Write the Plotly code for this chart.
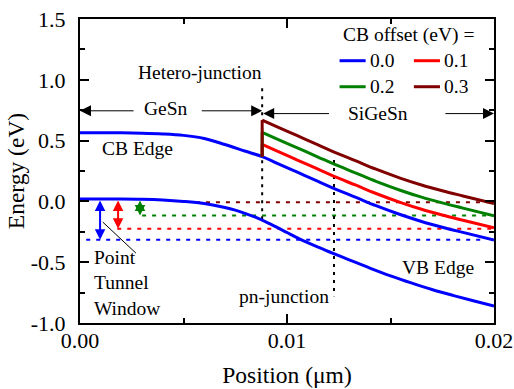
import plotly.graph_objects as go

# ---- band-edge data -------------------------------------------------------
# Conduction band in the GeSn region (position in um, energy in eV)
x_gesn = [0.0, 0.001, 0.002, 0.003, 0.004, 0.005, 0.006, 0.007, 0.008, 0.0088]
cb_gesn = [0.565, 0.565, 0.564, 0.561, 0.555, 0.543, 0.518, 0.468, 0.412, 0.368]

# Conduction band in the SiGeSn region for each CB offset
x_sigesn = [0.0088, 0.0095, 0.0105, 0.0115, 0.01225, 0.0133, 0.0143, 0.0155,
            0.0165, 0.0175, 0.0185, 0.02]
cb_sigesn_00 = [0.368, 0.315, 0.240, 0.165, 0.108, 0.035, -0.035, -0.110,
                -0.165, -0.212, -0.255, -0.318]
cb_sigesn_01 = [0.468, 0.415, 0.340, 0.265, 0.208, 0.135, 0.065, -0.010,
                -0.065, -0.112, -0.155, -0.218]
cb_sigesn_02 = [0.568, 0.515, 0.440, 0.365, 0.308, 0.235, 0.165, 0.090,
                0.035, -0.012, -0.055, -0.118]
cb_sigesn_03 = [0.668, 0.615, 0.540, 0.465, 0.408, 0.335, 0.265, 0.190,
                0.135, 0.088, 0.045, -0.018]

# Valence band across the whole device
x_vb = [0.0, 0.001, 0.002, 0.003, 0.004, 0.005, 0.006, 0.007, 0.0075, 0.008,
        0.0085, 0.009, 0.0095, 0.010, 0.0105, 0.011, 0.0115, 0.012, 0.013,
        0.014, 0.015, 0.016, 0.017, 0.018, 0.019, 0.020]
vb = [0.020, 0.020, 0.020, 0.018, 0.012, 0.000, -0.018, -0.050, -0.072, -0.100,
      -0.132, -0.170, -0.212, -0.256, -0.300, -0.340, -0.377, -0.412, -0.480,
      -0.548, -0.612, -0.670, -0.724, -0.772, -0.817, -0.860]

# CB offsets (legend) and the matching point-tunnel-window levels
offsets = ["0.0", "0.1", "0.2", "0.3"]
colors = ["#0000FF", "#FF0000", "#008000", "#800000"]
window_level = [-0.315, -0.225, -0.115, -0.006]
window_start = [0.0003, 0.0018, 0.0030, 0.0056]
window_end = [0.0194, 0.0200, 0.0200, 0.0200]
window_arrow_x = [0.00097, 0.00184, 0.0029]

# Junction positions (um)
hetero_x = 0.0088
pn_x = 0.01227

# Axis ticks
x_tickvals = [0.0, 0.01, 0.02]
x_ticktext = ["0.00", "0.01", "0.02"]
y_tickvals = [-1.0, -0.5, 0.0, 0.5, 1.0, 1.5]
y_ticktext = ["-1.0", "-0.5", "0.0", "0.5", "1.0", "1.5"]

FONT = "Liberation Serif"
LW = 3

fig = go.Figure()

# dotted tunnel-window levels
for lvl, x0, x1, c in zip(window_level, window_start, window_end, colors):
    fig.add_trace(go.Scatter(x=[x0, x1], y=[lvl, lvl], mode="lines",
                             line=dict(color=c, width=2, dash="4px,6px"),
                             showlegend=False, hoverinfo="skip"))

# junction markers
fig.add_trace(go.Scatter(x=[hetero_x, hetero_x], y=[0.93, -0.17], mode="lines",
                         line=dict(color="black", width=2, dash="3px,5px"),
                         showlegend=False, hoverinfo="skip"))
fig.add_trace(go.Scatter(x=[pn_x, pn_x], y=[0.34, -0.78], mode="lines",
                         line=dict(color="black", width=2, dash="3px,5px"),
                         showlegend=False, hoverinfo="skip"))

# valence band
fig.add_trace(go.Scatter(x=x_vb, y=vb, mode="lines", line_shape="spline",
                         line=dict(color=colors[0], width=LW), showlegend=False))

# conduction band: GeSn + SiGeSn for each offset
cb_sets = [cb_sigesn_00, cb_sigesn_01, cb_sigesn_02, cb_sigesn_03]
for i, (cb, c) in enumerate(zip(cb_sets, colors)):
    if i == 0:
        xs = x_gesn + x_sigesn[1:]
        ys = cb_gesn + cb[1:]
    else:
        xs = x_sigesn
        ys = cb
        # step at the hetero-junction
        fig.add_trace(go.Scatter(x=[x_sigesn[0], x_sigesn[0]],
                                 y=[cb_sigesn_00[0], cb[0]], mode="lines",
                                 line=dict(color=c, width=LW),
                                 showlegend=False, hoverinfo="skip"))
    fig.add_trace(go.Scatter(x=xs, y=ys, mode="lines", line_shape="spline",
                             line=dict(color=c, width=LW), name=offsets[i],
                             showlegend=False))

ann = []
txt = dict(family=FONT, size=19.5, color="black")

# double-headed tunnel-window arrows
for ax_x, lvl, c in zip(window_arrow_x, window_level[:3], colors[:3]):
    ann.append(dict(x=ax_x, y=lvl, ax=ax_x, ay=vb[0], xref="x", yref="y",
                    axref="x", ayref="y", text="", showarrow=True,
                    arrowhead=2, startarrowhead=2, arrowside="end+start",
                    arrowsize=1.05, startarrowsize=1.05, arrowwidth=2,
                    arrowcolor=c, standoff=0, startstandoff=0))

# region arrows
region_arrows = [
    (0.0, 0.745, 0.00266, 0.745),
    (hetero_x, 0.745, 0.00581, 0.745),
    (hetero_x + 0.00005, 0.722, 0.0121, 0.722),
    (0.02, 0.722, 0.01758, 0.722),
]
for hx, hy, tx, ty in region_arrows:
    ann.append(dict(x=hx, y=hy, ax=tx, ay=ty, xref="x", yref="y",
                    axref="x", ayref="y", text="", showarrow=True,
                    arrowhead=2, arrowsize=2.2, arrowwidth=1,
                    arrowcolor="black", standoff=0))

labels = [
    ("Hetero-junction", 0.00581, 1.064, "center"),
    ("GeSn", 0.00416, 0.762, "center"),
    ("SiGeSn", 0.01438, 0.727, "center"),
    ("CB Edge", 0.00276, 0.431, "center"),
    ("VB Edge", 0.01729, -0.546, "center"),
    ("pn-junction", 0.00985, -0.786, "center"),
]
for t, x, y, xa in labels:
    ann.append(dict(x=x, y=y, xref="x", yref="y", text=t, showarrow=False,
                    font=txt, xanchor=xa, yanchor="middle"))

ann.append(dict(x=0.00058, y=-0.67, xref="x", yref="y",
                text="Point<br>Tunnel<br>Window", showarrow=False,
                font=txt, xanchor="left", yanchor="middle", align="left"))

# legend drawn inside the axes
ann.append(dict(x=0.01588, y=1.368, xref="x", yref="y", text="CB offset (eV) =",
                showarrow=False, font=txt, xanchor="center", yanchor="middle"))
shapes = []
leg_pos = [(0.01254, 1.157), (0.01613, 1.157), (0.01254, 0.943), (0.01613, 0.943)]
for (lx, ly), lab, c in zip(leg_pos, offsets, colors):
    shapes.append(dict(type="line", x0=lx, x1=lx + 0.00126, y0=ly, y1=ly,
                       xref="x", yref="y", line=dict(color=c, width=LW)))
    ann.append(dict(x=lx + 0.00138, y=ly, xref="x", yref="y", text=lab,
                    showarrow=False, font=txt, xanchor="left", yanchor="middle"))

# leader line for the tunnel window label
shapes.append(dict(type="line", x0=0.0011, y0=-0.17, x1=0.0027, y1=-0.425,
                   xref="x", yref="y", line=dict(color="black", width=1)))

axis_common = dict(showline=True, linewidth=2, linecolor="black", mirror="ticks",
                   ticks="inside", ticklen=9, tickwidth=2, tickcolor="black",
                   showgrid=False, zeroline=False, automargin=False,
                   tickfont=dict(family=FONT, size=22, color="black"))

fig.update_layout(
    width=514, height=389,
    margin=dict(l=80, r=20, t=19, b=66),
    paper_bgcolor="white", plot_bgcolor="white",
    font=dict(family=FONT, color="black"),
    annotations=ann, shapes=shapes,
    xaxis=dict(range=[0, 0.02], tickmode="array", tickvals=x_tickvals,
               ticktext=x_ticktext, ticklabelstandoff=-3,
               minor=dict(tickmode="linear", tick0=0, dtick=0.005,
                          ticks="inside", ticklen=5, tickwidth=2,
                          tickcolor="black"),
               title=dict(text="Position (μm)", standoff=14,
                          font=dict(family=FONT, size=23.5, color="black")),
               **axis_common),
    yaxis=dict(range=[-1, 1.5], tickmode="array", tickvals=y_tickvals,
               ticktext=y_ticktext, ticklabelstandoff=8,
               minor=dict(tickmode="linear", tick0=0, dtick=0.25,
                          ticks="inside", ticklen=5, tickwidth=2,
                          tickcolor="black"),
               title=dict(text="Energy (eV)", standoff=0,
                          font=dict(family=FONT, size=23.5, color="black")),
               **axis_common),
    showlegend=False,
)

fig.write_html("out.html")
